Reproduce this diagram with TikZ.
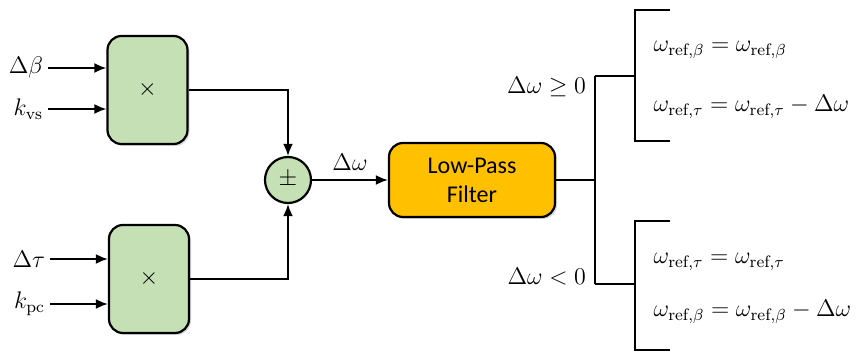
\documentclass[tikz,border=0pt]{standalone}
\usepackage{amsmath}
\usepackage{amssymb}
\usepackage{fontspec}
\newfontfamily\calibri{Carlito}
\usetikzlibrary{positioning,shadows,arrows.meta}
\definecolor{boxgreen}{HTML}{C5E0B4}
\definecolor{boxorange}{HTML}{FFC000}

\begin{document}
\begin{tikzpicture}[x=0.5pt,y=-0.5pt,line width=1pt,>={Latex[length=6pt,width=5pt]},
	font=\fontsize{11.8}{14}\selectfont]
	\tikzstyle{mult}=[draw,line width=1.1pt,rounded corners=7pt,fill=boxgreen,
		minimum width=40pt,minimum height=54pt,font=\calibri\fontsize{12}{14}\selectfont,
		drop shadow={shadow xshift=1pt,shadow yshift=-1pt,opacity=0.3}]
	\tikzstyle{lbl}=[inner sep=2pt]
	\useasboundingbox (0,0) rectangle (859,353);
	% multiplier blocks
	\node[mult] (m1) at (147.5,90) {$\times$};
	\node[mult] (m2) at (149,279) {$\times$};
	\node[draw,circle,line width=1.1pt,fill=boxgreen,minimum size=23pt,inner sep=0pt,
		font=\fontsize{12}{14}\selectfont] (sum) at (288,180) {$\pm$};
	\node[mult,fill=boxorange,minimum width=83pt,minimum height=37pt,align=center,
		font=\calibri\fontsize{12}{14.5}\selectfont] (lpf) at (472,180) {Low-Pass\\Filter};
	% inputs
	\node[lbl,anchor=east] (db) at (48,68) {$\Delta\beta$};
	\node[lbl,anchor=east] (kvs) at (48,109) {$k_{\mathrm{vs}}$};
	\node[lbl,anchor=east] (dt) at (50,259) {$\Delta\tau$};
	\node[lbl,anchor=east] (kpc) at (50,304) {$k_{\mathrm{pc}}$};
		\draw[->] (db) -- (db -| m1.west);
		\draw[->] (kvs) -- (kvs -| m1.west);
		\draw[->] (dt) -- (dt -| m2.west);
		\draw[->] (kpc) -- (kpc -| m2.west);
		\draw[->] (m1.east) -| (sum.north);
		\draw[->] (m2.east) -| (sum.south);
		\draw[->] (sum) -- node[above=1pt] {$\Delta\omega$} (lpf);
	% branches
	\coordinate (br) at (595,180);
	\coordinate (bt) at (595,76);
	\coordinate (bb) at (595,284);
		\draw (lpf) -- (br);
		\draw (bt) -- (bb);
		\draw (bt) -- ++(40,0);
		\draw (bb) -- ++(40,0);
	\node[lbl,anchor=east] (pos) at (591,87) {$\Delta\omega \geq 0$};
	\node[lbl,anchor=east] (neg) at (591,277) {$\Delta\omega < 0$};
	% brackets
	\draw (670,10) -- (635,10) -- (635,141) -- (670,141);
	\draw (670,221) -- (635,221) -- (635,350) -- (670,350);
	\node[anchor=west] (e1) at (646,50) {$\omega_{\mathrm{ref},\beta} = \omega_{\mathrm{ref},\beta}$};
	\node[anchor=west] (e2) at (646,107) {$\omega_{\mathrm{ref},\tau} = \omega_{\mathrm{ref},\tau} - \Delta\omega$};
	\node[anchor=west] (e3) at (646,262) {$\omega_{\mathrm{ref},\tau} = \omega_{\mathrm{ref},\tau}$};
	\node[anchor=west] (e4) at (646,312) {$\omega_{\mathrm{ref},\beta} = \omega_{\mathrm{ref},\beta} - \Delta\omega$};
\end{tikzpicture}
\end{document}
